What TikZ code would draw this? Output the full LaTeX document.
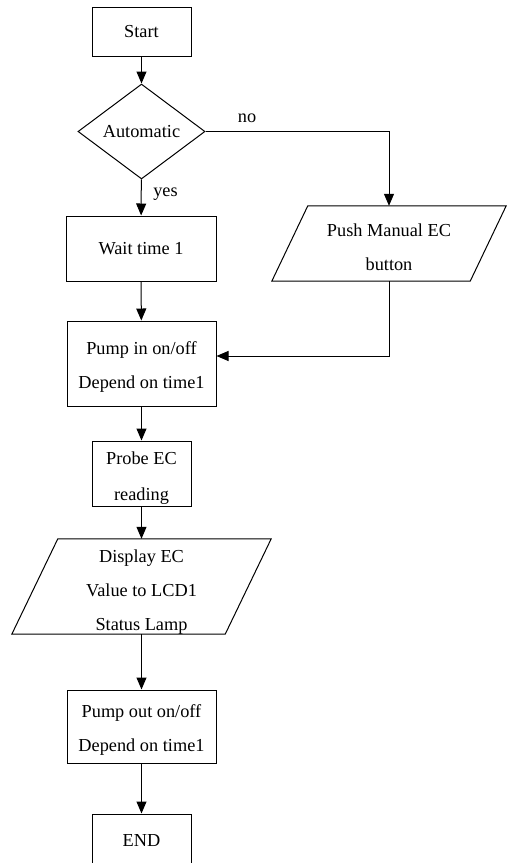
\documentclass[tikz,border=0pt]{standalone}
\usepackage{fontspec}
\setmainfont{Liberation Serif}
\usetikzlibrary{shapes.geometric,arrows.meta,calc}
\begin{document}
\begin{tikzpicture}[x=1pt,y=-1pt,
  font=\fontsize{18.3}{34}\selectfont,
  box/.style={draw,line width=1pt,rectangle,inner sep=0pt,align=center},
  io/.style={rectangle,inner sep=0pt,align=center},
  txt/.style={inner sep=0pt,align=center},
  dec/.style={draw,line width=1pt,diamond,inner sep=0pt,aspect=1.34},
  flow/.style={line width=1pt,-{Triangle[length=12pt,width=10pt]}},
  para/.style={line width=1pt,line join=miter},
  lbl/.style={inner sep=0pt,anchor=base}]
\useasboundingbox (0,0) rectangle (507,863);
\clip (0,0) rectangle (507,863);
\node[box,minimum width=99pt,minimum height=49pt] (start) at (141.5,31.5) {Start};
\node[dec,minimum width=127pt,minimum height=95pt] (dia) at (141.5,131.5) {Automatic};
\node[box,minimum width=150pt,minimum height=65pt] (wait) at (141,248.5) {Wait time 1};
\node[io,minimum width=234pt,minimum height=75pt] (push) at (389,243.5) {};
\node[txt] (pusht) at ($(push.center)+(0,3.5)$) {Push Manual EC\\button};
\draw[para] ($(push.north west)+(36,0)$) -- (push.north east) -- ($(push.south east)+(-36,0)$) -- (push.south west) -- cycle;
\node[box,minimum width=149pt,minimum height=85pt] (pumpin) at (141.5,363.5) {};
\node[txt] (pumpint) at ($(pumpin.center)+(0,3.5)$) {Pump in on/off\\Depend on time1};
\node[box,minimum width=99pt,minimum height=65pt] (probe) at (141.5,473.5) {};
\node[txt,font=\fontsize{18.3}{36}\selectfont] (probet) at ($(probe.center)+(0,4.5)$) {Probe EC\\reading};
\node[io,minimum width=259pt,minimum height=95pt] (disp) at (141.5,586.5) {};
\node[txt] (dispt) at ($(disp.center)+(0,6)$) {Display EC\\Value to LCD1\\Status Lamp};
\draw[para] ($(disp.north west)+(46,0)$) -- (disp.north east) -- ($(disp.south east)+(-46,0)$) -- (disp.south west) -- cycle;
\node[box,minimum width=149pt,minimum height=73pt] (pumpout) at (141.5,726.5) {};
\node[txt] (pumpoutt) at ($(pumpout.center)+(0,3.5)$) {Pump out on/off\\Depend on time1};
\node[box,minimum width=99pt,minimum height=54pt] (end) at (141.5,841) {END};
\node[lbl] (yes) at (165.5,196.5) {yes};
\node[lbl] (no) at (247,122.5) {no};
\draw[flow] (start) -- (dia);
\draw[flow] (dia) -- (wait);
\draw[flow] (dia.east) -| (push.north);
\draw[flow] (wait) -- (pumpin);
\draw[flow] (push.south) |- ($(pumpin.east)+(0,-7.5)$);
\draw[flow] (pumpin) -- (probe);
\draw[flow] (probe) -- (disp);
\draw[flow] (disp) -- (pumpout);
\draw[flow] (pumpout) -- (end);
\end{tikzpicture}
\end{document}
